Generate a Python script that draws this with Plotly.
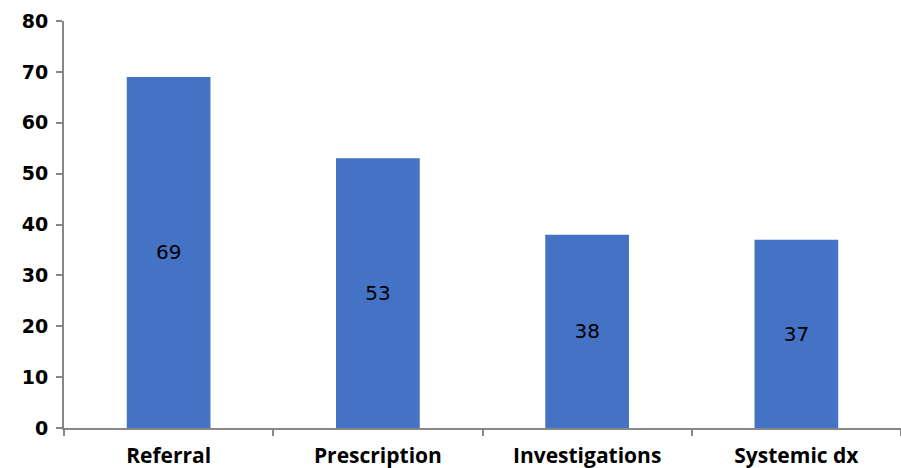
import plotly.graph_objects as go

categories = ["Referral", "Prescription", "Investigations", "Systemic dx"]
values = [69, 53, 38, 37]
y_ticks = [0, 10, 20, 30, 40, 50, 60, 70, 80]

fig = go.Figure()
fig.add_trace(go.Bar(
    x=categories, y=values,
    marker=dict(color="#4472C4", line=dict(width=0)),
    text=[str(v) for v in values],
    textposition="inside", insidetextanchor="middle",
    textfont=dict(family="DejaVu Sans", size=20, color="#000000"),
    textangle=0,
))
fig.update_layout(
    width=901, height=468,
    margin=dict(l=64, r=0, t=21, b=40),
    paper_bgcolor="white", plot_bgcolor="white",
    bargap=0.6, showlegend=False,
)
fig.update_yaxes(
    range=[0, 80], tickvals=y_ticks, showgrid=False, zeroline=False,
    showline=True, linecolor="#878787", linewidth=2,
    ticks="outside", ticklen=6, tickcolor="#878787", tickwidth=2,
    ticklabelstandoff=4,
    tickfont=dict(family="DejaVu Sans", size=19, color="#000000", weight="bold"),
)
fig.update_xaxes(
    showgrid=False, showline=True, linecolor="#878787", linewidth=2,
    ticks="outside", ticklen=6, tickcolor="#878787", tickwidth=2,
    tickson="boundaries", ticklabelstandoff=8,
    tickfont=dict(family="Open Sans", size=21, color="#000000", weight="bold"),
)
fig.write_html("out.html")
